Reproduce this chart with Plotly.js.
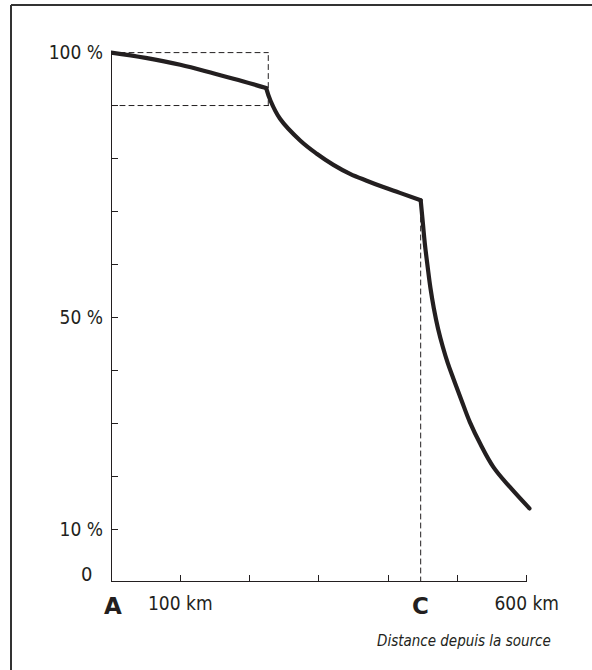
<!DOCTYPE html>
<html>
<head>
<meta charset="utf-8">
<script src="https://cdn.plot.ly/plotly-3.0.1.min.js"></script>
<style>
html,body{margin:0;padding:0;background:#fff;}
#chart{width:592px;height:670px;}
.scatterlayer .js-line{stroke-linecap:round;stroke-linejoin:round;}
</style>
</head>
<body>
<div id="chart"></div>
<script>
// ---- data ----
const seg1Km  = [0, 50, 100, 150, 190, 224];
const seg1Pct = [100, 99.0, 97.7, 96.0, 94.6, 93.3];

const seg2Km  = [224, 230, 244, 273, 297, 321, 345, 369, 393, 417, 447];
const seg2Pct = [93.3, 91.0, 87.5, 83.4, 80.9, 78.8, 77.1, 75.8, 74.6, 73.5, 72.1];

const seg3Km  = [447, 450, 453, 457, 461, 466, 472, 479, 486, 494, 506, 518, 533, 552, 576, 604];
const seg3Pct = [72.1, 68.0, 63.9, 59.6, 55.6, 51.7, 47.9, 44.4, 41.4, 38.5, 34.3, 30.2, 26.1, 21.7, 17.9, 13.9];

// reference (dashed) lines
const boxKm = 227;            // right edge of the dashed box
const boxPct = [90, 100];     // lower / upper edge of the dashed box
const pointCKm = 447;         // dashed vertical through C
const pointCPct = 72.1;

// axes
const xTickVals = [100, 200, 300, 400, 500, 600];
const xTickText = ["100 km", "", "", "", "", "600 km"];
const yTickVals = [10, 20, 30, 40, 50, 60, 70, 80, 90, 100];
const yTickText = ["10 %", "", "", "", "50 %", "", "", "", "", "100 %"];
const pointLabels = [{km: 0, text: "A"}, {km: pointCKm, text: "C"}];
const xTitle = "Distance depuis la source";

// ---- styling ----
const ink = "#231f20";
const narrow = "'Liberation Sans Narrow', 'DejaVu Sans Condensed', 'Arial Narrow', sans-serif";

const dashStyle = {color: ink, width: 1, dash: "5px,4px"};
const curveLine = {color: ink, width: 4.2, shape: "spline", smoothing: 1.1};

const traces = [
  {x: [0, boxKm], y: [boxPct[1], boxPct[1]], mode: "lines", line: dashStyle, hoverinfo: "skip"},
  {x: [0, boxKm], y: [boxPct[0], boxPct[0]], mode: "lines", line: dashStyle, hoverinfo: "skip"},
  {x: [boxKm, boxKm], y: [boxPct[0], boxPct[1]], mode: "lines", line: dashStyle, hoverinfo: "skip"},
  {x: [pointCKm, pointCKm], y: [0, pointCPct], mode: "lines", line: dashStyle, hoverinfo: "skip"},
  {x: seg1Km, y: seg1Pct, mode: "lines", line: curveLine},
  {x: seg2Km, y: seg2Pct, mode: "lines", line: curveLine},
  {x: seg3Km, y: seg3Pct, mode: "lines", line: curveLine}
];

// plot box geometry
const L = 111, R = 58, T = 42, B = 88;
const W = 592 - L - R, H = 670 - T - B;
const px2paperX = p => (p - L) / W;
const px2paperY = p => (670 - B - p) / H;

const annotations = pointLabels.map(p => ({
  x: p.km, xref: "x", y: 0, yref: "paper",
  yanchor: "top", yshift: -9, xshift: p.km === 0 ? 2 : 0, showarrow: false,
  text: "<b>" + p.text + "</b>",
  font: {family: "'DejaVu Sans', sans-serif", size: 23, color: ink}
}));
annotations.push({
  x: 0, xref: "paper", xanchor: "right", xshift: -17,
  y: 1.6, yref: "y", yanchor: "middle", showarrow: false,
  text: "0", font: {family: narrow, size: 20, color: ink}
});
annotations.push({
  x: px2paperX(553), xref: "paper", xanchor: "right",
  y: px2paperY(641), yref: "paper", yanchor: "middle", showarrow: false,
  text: "<i>" + xTitle + "</i>", font: {family: narrow, size: 15, color: ink}
});

const shapes = [
  // axis lines
  {type: "line", xref: "x", yref: "y", x0: 0, x1: 600, y0: 0, y1: 0, line: {color: ink, width: 2}},
  {type: "line", xref: "x", yref: "y", x0: 0, x1: 0, y0: 0, y1: 100, line: {color: ink, width: 2}},
  // frame (top and left)
  {type: "line", xref: "paper", yref: "paper", x0: px2paperX(11), x1: px2paperX(592), y0: px2paperY(5), y1: px2paperY(5), line: {color: "#333", width: 2}},
  {type: "line", xref: "paper", yref: "paper", x0: px2paperX(11), x1: px2paperX(11), y0: px2paperY(5), y1: px2paperY(670), line: {color: "#333", width: 2}}
];

const layout = {
  width: 592, height: 670,
  margin: {l: L, r: R, t: T, b: B, pad: 0},
  paper_bgcolor: "#fff", plot_bgcolor: "#fff",
  showlegend: false,
  xaxis: {
    range: [0, W / 0.6928], showgrid: false, zeroline: false, showline: false,
    tickmode: "array", tickvals: xTickVals, ticktext: xTickText,
    ticks: "inside", ticklen: 7, tickwidth: 1, tickcolor: ink,
    ticklabelstandoff: 8,
    tickfont: {family: narrow, size: 19, color: ink}, fixedrange: true
  },
  yaxis: {
    range: [0, H / 5.294], showgrid: false, zeroline: false, showline: false,
    tickmode: "array", tickvals: yTickVals, ticktext: yTickText,
    ticks: "inside", ticklen: 7, tickwidth: 1, tickcolor: ink,
    ticklabelstandoff: 7,
    tickfont: {family: narrow, size: 19, color: ink}, fixedrange: true
  },
  annotations: annotations,
  shapes: shapes
};

Plotly.newPlot("chart", traces, layout, {displayModeBar: false, staticPlot: true});
</script>
</body>
</html>
